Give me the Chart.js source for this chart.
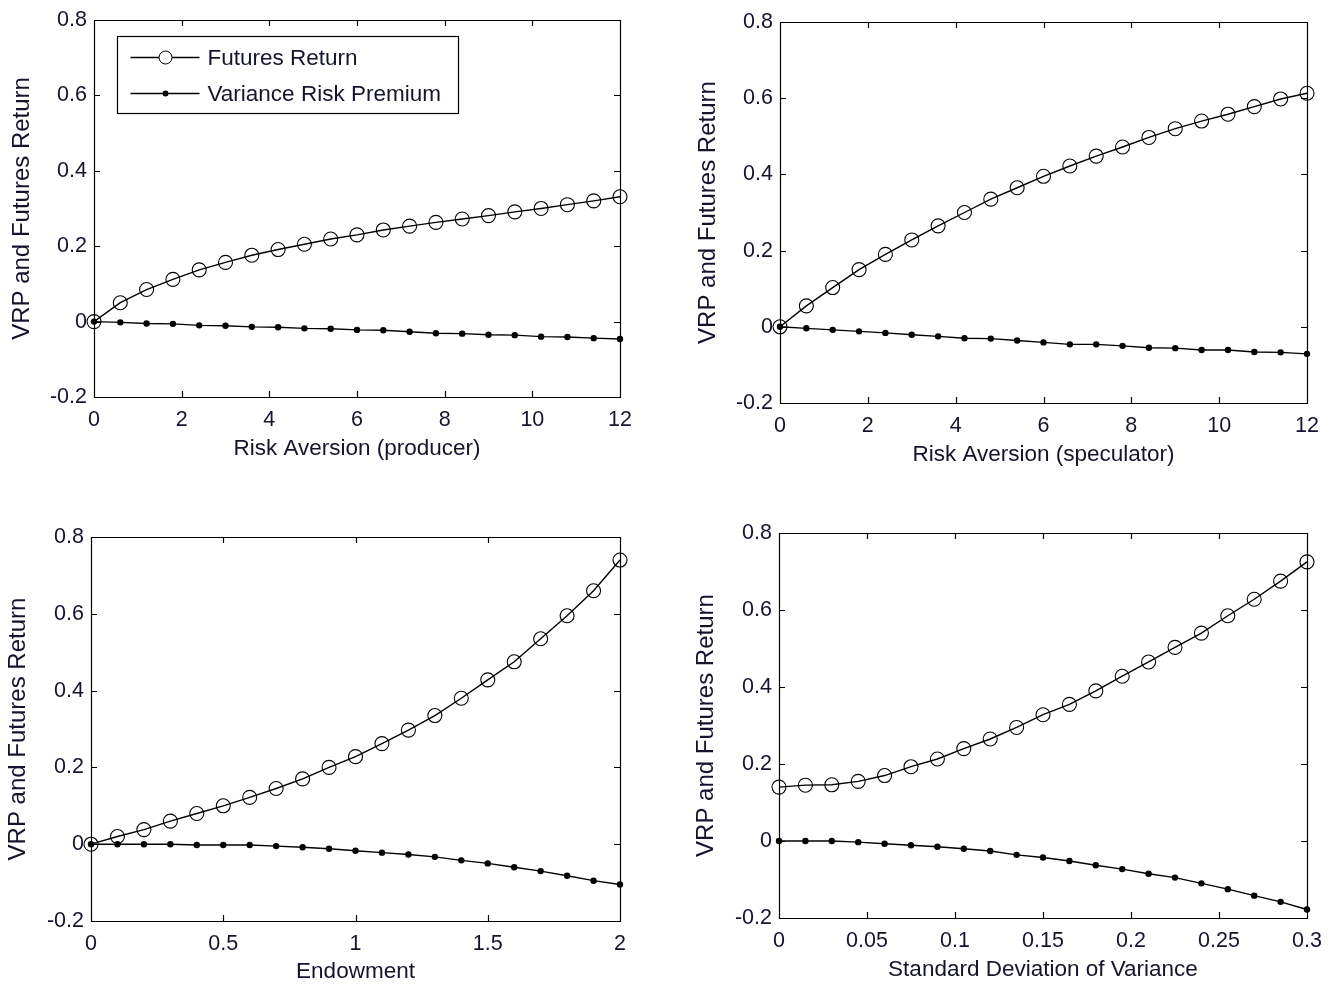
<!DOCTYPE html>
<html><head><meta charset="utf-8">
<script src="https://cdn.jsdelivr.net/npm/chart.js@4"></script>
<style>
html,body{margin:0;padding:0;background:#fff;width:1333px;height:988px;overflow:hidden}
canvas{position:absolute}
</style></head><body>
<canvas id="c1" width="666" height="490" style="left:0px;top:0px"></canvas>
<canvas id="c2" width="653" height="490" style="left:680px;top:0px"></canvas>
<canvas id="c3" width="666" height="493" style="left:0px;top:495px"></canvas>
<canvas id="c4" width="653" height="493" style="left:680px;top:495px"></canvas>
<script>
// ---- Data ----
const seriesNames = ['Futures Return', 'Variance Risk Premium'];
const yAxisTitle = 'VRP and Futures Return';
const yTicks = [-0.2, 0, 0.2, 0.4, 0.6, 0.8];
const yTickLabels = ['-0.2', '0', '0.2', '0.4', '0.6', '0.8'];

// Panel 1: Risk Aversion (producer)
const producerX = [0, 0.6, 1.2, 1.8, 2.4, 3, 3.6, 4.2, 4.8, 5.4, 6, 6.6, 7.2, 7.8, 8.4, 9, 9.6, 10.2, 10.8, 11.4, 12];
const producerFutures = [0, 0.05, 0.085, 0.112, 0.137, 0.157, 0.176, 0.191, 0.205, 0.219, 0.230, 0.243, 0.253, 0.263, 0.272, 0.281, 0.291, 0.300, 0.310, 0.320, 0.331];
const producerVRP = [0, -0.002, -0.005, -0.006, -0.010, -0.011, -0.014, -0.015, -0.018, -0.019, -0.022, -0.023, -0.027, -0.031, -0.032, -0.035, -0.036, -0.040, -0.041, -0.044, -0.046];
const producerTicks = [0, 2, 4, 6, 8, 10, 12];
const producerTickLabels = ['0', '2', '4', '6', '8', '10', '12'];

// Panel 2: Risk Aversion (speculator)
const speculatorX = [0, 0.6, 1.2, 1.8, 2.4, 3, 3.6, 4.2, 4.8, 5.4, 6, 6.6, 7.2, 7.8, 8.4, 9, 9.6, 10.2, 10.8, 11.4, 12];
const speculatorFutures = [0, 0.055, 0.103, 0.150, 0.190, 0.228, 0.265, 0.300, 0.335, 0.365, 0.395, 0.422, 0.448, 0.472, 0.497, 0.520, 0.540, 0.558, 0.578, 0.598, 0.613];
const speculatorVRP = [0, -0.004, -0.008, -0.012, -0.016, -0.021, -0.025, -0.030, -0.031, -0.036, -0.041, -0.046, -0.046, -0.050, -0.055, -0.056, -0.061, -0.061, -0.066, -0.067, -0.071];
const speculatorTicks = [0, 2, 4, 6, 8, 10, 12];
const speculatorTickLabels = ['0', '2', '4', '6', '8', '10', '12'];

// Panel 3: Endowment
const endowmentX = [0, 0.1, 0.2, 0.3, 0.4, 0.5, 0.6, 0.7, 0.8, 0.9, 1, 1.1, 1.2, 1.3, 1.4, 1.5, 1.6, 1.7, 1.8, 1.9, 2];
const endowmentFutures = [0, 0.020, 0.038, 0.060, 0.080, 0.100, 0.122, 0.145, 0.170, 0.200, 0.228, 0.262, 0.297, 0.335, 0.380, 0.428, 0.475, 0.535, 0.595, 0.660, 0.740];
const endowmentVRP = [0, 0, 0, 0, -0.002, -0.002, -0.002, -0.005, -0.008, -0.012, -0.017, -0.022, -0.027, -0.033, -0.042, -0.050, -0.060, -0.070, -0.082, -0.095, -0.105];
const endowmentTicks = [0, 0.5, 1, 1.5, 2];
const endowmentTickLabels = ['0', '0.5', '1', '1.5', '2'];

// Panel 4: Standard Deviation of Variance
const sdvX = [0, 0.015, 0.03, 0.045, 0.06, 0.075, 0.09, 0.105, 0.12, 0.135, 0.15, 0.165, 0.18, 0.195, 0.21, 0.225, 0.24, 0.255, 0.27, 0.285, 0.3];
const sdvFutures = [0.140, 0.145, 0.146, 0.155, 0.170, 0.193, 0.213, 0.240, 0.265, 0.295, 0.328, 0.355, 0.390, 0.428, 0.465, 0.503, 0.540, 0.585, 0.628, 0.675, 0.725];
const sdvVRP = [0, 0, 0, -0.003, -0.007, -0.011, -0.015, -0.020, -0.026, -0.036, -0.043, -0.052, -0.063, -0.073, -0.085, -0.095, -0.110, -0.125, -0.142, -0.158, -0.178];
const sdvTicks = [0, 0.05, 0.1, 0.15, 0.2, 0.25, 0.3];
const sdvTickLabels = ['0', '0.05', '0.1', '0.15', '0.2', '0.25', '0.3'];

// ---- Rendering ----
const FONT = "'Liberation Sans', Arial, sans-serif";
const TEXT = '#14142c';
Chart.defaults.font.family = FONT;
Chart.defaults.color = TEXT;

const matlabAxes = {
  id: 'matlabAxes',
  afterDraw(chart) {
    const {ctx, chartArea: a, scales} = chart;
    const L = 6;
    ctx.save();
    ctx.strokeStyle = '#000';
    ctx.lineWidth = 1.2;
    ctx.beginPath();
    ctx.rect(Math.round(a.left) + 0.5, Math.round(a.top) + 0.5, Math.round(a.right - a.left), Math.round(a.bottom - a.top));
    scales.x.ticks.forEach(t => {
      const px = Math.round(scales.x.getPixelForValue(t.value)) + 0.5;
      ctx.moveTo(px, a.bottom); ctx.lineTo(px, a.bottom - L);
      ctx.moveTo(px, a.top); ctx.lineTo(px, a.top + L);
    });
    scales.y.ticks.forEach(t => {
      const py = Math.round(scales.y.getPixelForValue(t.value)) + 0.5;
      ctx.moveTo(a.left, py); ctx.lineTo(a.left + L, py);
      ctx.moveTo(a.right, py); ctx.lineTo(a.right - L, py);
    });
    ctx.stroke();
    ctx.restore();
  }
};

const legendBox = {
  id: 'legendBox',
  afterDraw(chart, args, opts) {
    if (!opts.show) return;
    const {ctx, chartArea: a} = chart;
    const x = Math.round(a.left + 23) + 0.5, y = Math.round(a.top + 16) + 0.5;
    const w = 341, h = 77;
    ctx.save();
    ctx.fillStyle = '#fff';
    ctx.fillRect(x, y, w, h);
    ctx.strokeStyle = '#000';
    ctx.lineWidth = 1.2;
    ctx.strokeRect(x, y, w, h);
    const rows = [y + 20, y + 56];
    chart.data.datasets.forEach((ds, i) => {
      const ry = Math.round(rows[i]) + 0.5;
      ctx.lineWidth = 1.4;
      ctx.beginPath();
      ctx.moveTo(x + 13, ry); ctx.lineTo(x + 82, ry);
      ctx.strokeStyle = '#000';
      ctx.stroke();
      ctx.beginPath();
      ctx.arc(x + 48, ry, i === 0 ? 6.5 : 3, 0, Math.PI * 2);
      ctx.lineWidth = 1;
      if (i === 0) { ctx.fillStyle = '#fff'; ctx.fill(); ctx.stroke(); }
      else { ctx.fillStyle = '#000'; ctx.fill(); }
      ctx.fillStyle = TEXT;
      ctx.font = '22.5px ' + FONT;
      ctx.textBaseline = 'middle';
      ctx.textAlign = 'left';
      ctx.fillText(ds.label, x + 90, ry + 1);
    });
    ctx.restore();
  }
};

function pts(xs, ys) { return xs.map((x, i) => ({x: x, y: ys[i]})); }

function makeChart(id, cfg) {
  const datasets = [
    {label: seriesNames[0], data: pts(cfg.x, cfg.futures), borderColor: '#000', borderWidth: 1.4,
     pointStyle: 'circle', pointRadius: 7, pointBorderWidth: 1.1, pointBackgroundColor: 'rgba(0,0,0,0)',
     pointBorderColor: '#000', tension: 0, clip: false, fill: false},
    {label: seriesNames[1], data: pts(cfg.x, cfg.vrp), borderColor: '#000', borderWidth: 1.4,
     pointStyle: 'circle', pointRadius: 3.2, pointBorderWidth: 0, pointBackgroundColor: '#000',
     pointBorderColor: '#000', tension: 0, clip: false, fill: false}
  ];
  return new Chart(document.getElementById(id), {
    type: 'line',
    data: {datasets},
    options: {
      responsive: false, animation: false, events: [],
      layout: {padding: {top: cfg.padTop, right: cfg.padRight, left: 0, bottom: 0}},
      plugins: {legend: {display: false}, tooltip: {enabled: false}, legendBox: {show: !!cfg.legend}},
      scales: {
        x: {
          type: 'linear', min: cfg.ticks[0], max: cfg.ticks[cfg.ticks.length - 1],
          border: {display: false}, grid: {display: false, drawTicks: false},
          afterBuildTicks: s => { s.ticks = cfg.ticks.map(v => ({value: v})); },
          afterFit: s => { s.height = cfg.xHeight; },
          ticks: {autoSkip: false, maxRotation: 0, padding: 10, color: TEXT, font: {size: 21.5},
                  callback: (v, i) => cfg.tickLabels[i]},
          title: {display: true, text: cfg.xTitle, color: TEXT, font: {size: 22.5}, padding: {top: 0, bottom: cfg.xTitlePad}}
        },
        y: {
          type: 'linear', min: -0.2, max: 0.8,
          border: {display: false}, grid: {display: false, drawTicks: false},
          afterBuildTicks: s => { s.ticks = yTicks.map(v => ({value: v})); },
          afterFit: s => { s.width = cfg.yWidth; },
          ticks: {autoSkip: false, padding: 7, color: TEXT, font: {size: 21.5},
                  callback: (v, i) => yTickLabels[i]},
          title: {display: true, text: yAxisTitle, color: TEXT, font: {size: 24}, padding: {top: cfg.yTitlePad, bottom: 0}}
        }
      }
    },
    plugins: [matlabAxes, legendBox]
  });
}

makeChart('c1', {x: producerX, futures: producerFutures, vrp: producerVRP, ticks: producerTicks, tickLabels: producerTickLabels,
  xTitle: 'Risk Aversion (producer)', padTop: 17, padRight: 46, yWidth: 94, xHeight: 93, yTitlePad: 7.6, xTitlePad: 27.5, legend: true});
makeChart('c2', {x: speculatorX, futures: speculatorFutures, vrp: speculatorVRP, ticks: speculatorTicks, tickLabels: speculatorTickLabels,
  xTitle: 'Risk Aversion (speculator)', padTop: 22, padRight: 26, yWidth: 100, xHeight: 87, yTitlePad: 13.6, xTitlePad: 21.5});
makeChart('c3', {x: endowmentX, futures: endowmentFutures, vrp: endowmentVRP, ticks: endowmentTicks, tickLabels: endowmentTickLabels,
  xTitle: 'Endowment', padTop: 42, padRight: 46, yWidth: 91, xHeight: 67, yTitlePad: 3.6, xTitlePad: 2.5});
makeChart('c4', {x: sdvX, futures: sdvFutures, vrp: sdvVRP, ticks: sdvTicks, tickLabels: sdvTickLabels,
  xTitle: 'Standard Deviation of Variance', padTop: 38, padRight: 26, yWidth: 99, xHeight: 70, yTitlePad: 11.6, xTitlePad: 4.5});
</script>
</body></html>
